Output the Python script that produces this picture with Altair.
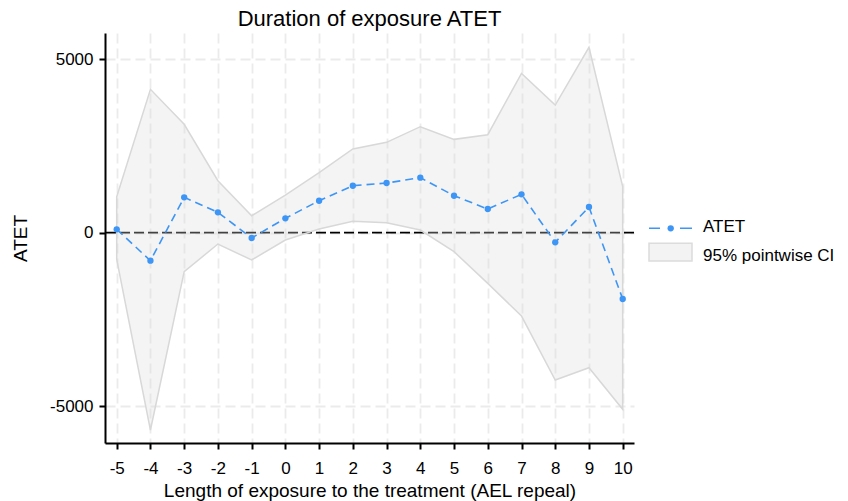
import altair as alt
import pandas as pd

# ---- data ----
x_vals = list(range(-5, 11))
atet = [98, -807, 1020, 588, -153, 415, 922, 1354, 1432, 1585, 1066, 683, 1106, -278, 740, -1911]
upper = [1037, 4132, 3124, 1499, 490, 1086, 1729, 2412, 2605, 3055, 2690, 2824, 4592, 3680, 5343, 1326]
lower = [-767, -5686, -1124, -326, -787, -210, 107, 328, 288, 78, -547, -1460, -2401, -4245, -3890, -5090]
y_ticks = [-5000, 0, 5000]
legend_labels = ["ATET", "95% pointwise CI"]

df = pd.DataFrame({"x": x_vals, "atet": atet, "hi": upper, "lo": lower})

FONT = "Liberation Sans"
BLUE = "#3d95f5"

xscale = alt.Scale(domain=[-5.347, 10.335], nice=False, zero=False)
yscale = alt.Scale(domain=[-6060, 5755], nice=False, zero=False)

xaxis = alt.Axis(
    values=x_vals,
    labelExpr="'' + datum.value",
    labelOverlap=False,
    labelFlush=False,
    labelBound=False,
    title="Length of exposure to the treatment (AEL repeal)",
    titleY=53.5,
    titleBaseline="alphabetic",
    labelPadding=11,
)
yaxis = alt.Axis(
    values=y_ticks,
    labelExpr="'' + datum.value",
    labelOverlap=False,
    labelFlush=False,
    labelBound=False,
    title="ATET",
    titleX=-78.3,
    titleAngle=270,
    titleBaseline="alphabetic",
    labelPadding=6,
)

base = alt.Chart(df)

zero_df = pd.DataFrame({"y": [0]})
zero = alt.Chart(zero_df).mark_rule(color="black", strokeDash=[10, 4], strokeWidth=1.8).encode(
    y=alt.Y("y:Q", scale=yscale, axis=yaxis)
)

ribbon = base.mark_area(
    fill="#dbdbdb", fillOpacity=0.3, stroke="#d8d8d8", strokeWidth=1.5
).encode(
    x=alt.X("x:Q", scale=xscale, axis=xaxis),
    y=alt.Y("hi:Q", scale=yscale, axis=yaxis),
    y2="lo:Q",
)

line = base.mark_line(color=BLUE, strokeDash=[8, 5], strokeWidth=1.6).encode(
    x=alt.X("x:Q", scale=xscale, axis=xaxis),
    y=alt.Y("atet:Q", scale=yscale, axis=yaxis),
)

points = base.mark_circle(color=BLUE, size=40, opacity=1).encode(
    x=alt.X("x:Q", scale=xscale, axis=xaxis),
    y=alt.Y("atet:Q", scale=yscale, axis=yaxis),
)

# ---- manual legend ----
leg1 = pd.DataFrame({"label": [legend_labels[0]]})
leg2 = pd.DataFrame({"label": [legend_labels[1]]})

leg_line = alt.Chart(leg1).mark_rule(color=BLUE, strokeWidth=1.6, strokeDash=[11, 20, 12]).encode(
    x=alt.value(544), x2=alt.value(587), y=alt.value(195.3)
)
leg_dot = alt.Chart(leg1).mark_circle(color=BLUE, size=40, opacity=1).encode(
    x=alt.value(565.7), y=alt.value(195.3)
)
leg_text1 = alt.Chart(leg1).mark_text(
    align="left", baseline="alphabetic", font=FONT, fontSize=17, color="black"
).encode(x=alt.value(598), y=alt.value(199.3), text="label:N")

leg_rect = alt.Chart(leg2).mark_rect(fill="#f3f3f3", stroke="#dcdcdc", strokeWidth=1.5).encode(
    x=alt.value(544), x2=alt.value(587), y=alt.value(210.3), y2=alt.value(228)
)
leg_text2 = alt.Chart(leg2).mark_text(
    align="left", baseline="alphabetic", font=FONT, fontSize=17, color="black"
).encode(x=alt.value(598), y=alt.value(228), text="label:N")

chart = alt.layer(
    zero, ribbon, line, points, leg_line, leg_dot, leg_text1, leg_rect, leg_text2
).properties(
    width=529,
    height=410,
    background="white",
    autosize=alt.AutoSizeParams(type="none"),
    padding={"left": 97, "top": 25, "right": 206, "bottom": 60},
    title=alt.TitleParams(
        "Duration of exposure ATET",
        font=FONT,
        fontSize=22,
        fontWeight="normal",
        color="black",
        anchor="middle",
        offset=2,
    ),
).configure_view(
    stroke=None
).configure_axis(
    domainColor="black",
    domainWidth=2,
    tickColor="black",
    tickWidth=2,
    tickSize=6,
    labelColor="black",
    labelFont=FONT,
    labelFontSize=17,
    titleFont=FONT,
    titleFontSize=19,
    titleFontWeight="normal",
    titleColor="black",
    grid=True,
    gridColor="#ebebeb",
    gridDash=[10, 5],
    gridWidth=1.8,
)

chart.save("out.html", embed_options={"renderer": "svg", "actions": False})
